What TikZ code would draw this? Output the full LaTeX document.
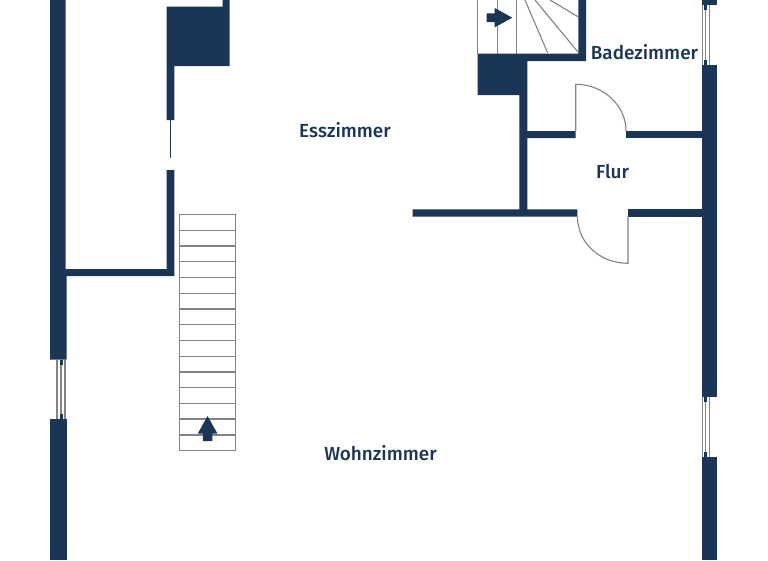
\documentclass[tikz,border=0pt]{standalone}
\usepackage{fontspec}
\setmainfont{Fira Sans}[UprightFont={* Medium}]
\definecolor{wallc}{HTML}{1B3557}
\definecolor{linec}{HTML}{7F848B}
\tikzset{
  wall/.style={fill=wallc,draw=none},
  thin line/.style={draw=linec,line width=1.1pt},
  stairline/.style={draw=linec,line width=1.3pt},
  glass/.style={draw=linec,line width=1.2pt},
  stub/.style={fill=wallc,draw=none},
  roomlabel/.style={text=wallc,font=\fontsize{18.9}{21}\selectfont,inner sep=0pt,anchor=center}
}
\begin{document}
\begin{tikzpicture}[x=1pt,y=-1pt]
\useasboundingbox (0,0) rectangle (768,560);
\fill[white] (0,0) rectangle (768,560);
% left outer wall
\path[wall] (50,0) -- (65.7,0) -- (65.7,269) -- (66.5,276) -- (66.5,359.5) -- (50,359.5) -- cycle;
\path[wall] (50,419) rectangle (66.5,560);
% left window
\foreach \x in {57,61,65} \draw[glass] (\x,359.5) -- (\x,419);
\path[stub] (59.5,359.5) rectangle (62.5,364.5);
\path[stub] (59.5,414) rectangle (62.5,419);
% inner left partition and block
\path[wall] (166.7,6.5) -- (222.7,6.5) -- (222.7,0) -- (229.7,0) -- (229.7,66) -- (174.3,66) -- (174.3,120) -- (166.7,120) -- cycle;
\draw[wallc,line width=1.4pt] (170.5,120) -- (170.5,157.5);
\path[wall] (166.7,170) -- (174.3,170) -- (174.3,276) -- (65.7,276) -- (65.7,269) -- (166.7,269) -- cycle;
% straight stair
\draw[stairline] (179.5,214.5) rectangle (235.7,450.7);
\foreach \k in {1,...,14} \draw[stairline] (179.5,214.5+15.74*\k) -- (235.7,214.5+15.74*\k);
\path[wall] (207.6,416) -- (217.4,433.5) -- (212.4,433.5) -- (212.4,441) -- (202.8,441) -- (202.8,433.5) -- (197.8,433.5) -- cycle;
% upper stair
\draw[thin line] (477.7,0) -- (477.7,54);
\draw[thin line] (497.7,0) -- (497.7,54);
\draw[thin line] (516.7,0) -- (516.7,54);
\draw[thin line] (525,0) -- (547.7,53);
\draw[thin line] (535,0) -- (578,52);
\draw[thin line] (550,0) -- (578,16.7);
\path[wall] (486.7,13.3) -- (494.7,13.3) -- (494.7,8) -- (512.3,17.7) -- (494.7,27.3) -- (494.7,22) -- (486.7,22) -- cycle;
% upper core walls
\path[wall] (578.3,0) -- (586,0) -- (586,61) -- (527.3,61) -- (527.3,131) -- (575.7,131) -- (575.7,138) -- (527.3,138) -- (527.3,209.3) -- (577.3,209.3) -- (577.3,216.7) -- (412.7,216.7) -- (412.7,209.3) -- (519.3,209.3) -- (519.3,95) -- (477.7,95) -- (477.7,53.7) -- (578.3,53.7) -- cycle;
\path[wall] (626,131) rectangle (702.5,138);
\path[wall] (628,209.3) rectangle (702.5,216.7);
% right outer wall
\path[wall] (702.3,0) rectangle (717.3,5);
\path[wall] (702.3,65.3) rectangle (717.3,396.7);
\path[wall] (702.3,456.7) rectangle (717.3,560);
% right windows
\foreach \x in {702.5,705.7,709.3} {
  \draw[glass] (\x,5) -- (\x,65.3);
  \draw[glass] (\x,396.7) -- (\x,456.7);
}
\foreach \y/\h in {5/5,60.3/5,396.7/5,451.7/5} \path[stub] (704.2,\y) rectangle (707.2,\y+\h);
% doors
\draw[thin line] (575.7,131) -- (575.7,84.3) .. controls (603,84.3) and (626,105) .. (626,131);
\draw[thin line] (577.5,216.7) .. controls (577.5,243) and (600,263.3) .. (628,263.3) -- (628,216.7);
% labels
\node[roomlabel] (bad) at (644.5,52) {Badezimmer};
\node[roomlabel] (ess) at (345,130) {Esszimmer};
\node[roomlabel] (flur) at (612.5,172) {Flur};
\node[roomlabel] (wohn) at (380.5,453) {Wohnzimmer};
\end{tikzpicture}
\end{document}
